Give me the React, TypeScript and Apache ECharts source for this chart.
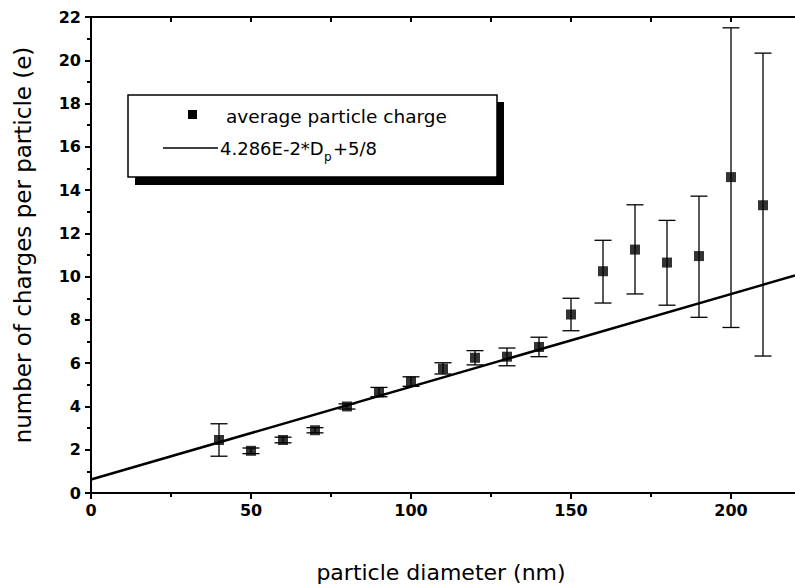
import React, { useEffect, useRef } from "react";
import * as echarts from "echarts";

const diameters = [40, 50, 60, 70, 80, 90, 100, 110, 120, 130, 140, 150, 160, 170, 180, 190, 200, 210];
const meanCharge = [2.45, 1.95, 2.45, 2.9, 4.0, 4.65, 5.15, 5.75, 6.25, 6.3, 6.75, 8.25, 10.25, 11.25, 10.65, 10.95, 14.6, 13.3];
const errLow = [1.7, 1.82, 2.32, 2.78, 3.88, 4.45, 4.93, 5.5, 5.92, 5.88, 6.3, 7.5, 8.78, 9.2, 8.68, 8.12, 7.65, 6.33];
const errHigh = [3.2, 2.08, 2.58, 3.02, 4.12, 4.88, 5.37, 6.02, 6.58, 6.7, 7.2, 9.0, 11.68, 13.32, 12.6, 13.72, 21.5, 20.33];
const fitX = [0, 220];
const fitY = [0.625, 10.054];
const xMajorTicks = [0, 50, 100, 150, 200];
const xMinorTicks = [25, 75, 125, 175];
const xTopTicks = [25, 50, 75, 100, 125, 150, 175, 200];

const legendName1 = "average particle charge";
const legendName2a = "4.286E-2*D";
const legendName2sub = "p";
const legendName2b = "+5/8";
const xTitle = "particle diameter (nm)";
const yTitle = "number of charges per particle (e)";

const TICK_FONT = "DejaVu Sans";
const TITLE_FONT = "DejaVu Sans";

export default function App() {
  const ref = useRef<HTMLDivElement>(null);
  useEffect(() => {
    const chart = echarts.init(ref.current!, null, { renderer: "svg" });
    const axisLine = { show: true, lineStyle: { color: "#000", width: 2 } };
    const hiddenLine = { show: false };
    const option: any = {
      animation: false,
      backgroundColor: "#fff",
      grid: { left: 91, top: 17, width: 707, height: 476, containLabel: false },
      xAxis: [
        {
          type: "value", min: 0, max: 220, position: "bottom",
          axisLine,
          axisTick: { show: true, inside: false, length: 6, lineStyle: { color: "#000", width: 2 }, customValues: xMajorTicks },
          axisLabel: { customValues: xMajorTicks, color: "#000", fontFamily: TICK_FONT, fontWeight: "bold", fontSize: 16, margin: 9 },
          splitLine: { show: false },
        },
        {
          type: "value", min: 0, max: 220, position: "bottom",
          axisLine: hiddenLine,
          axisTick: { show: true, inside: false, length: 4, lineStyle: { color: "#000", width: 2 }, customValues: xMinorTicks },
          axisLabel: { show: false },
          splitLine: { show: false },
        },
        {
          type: "value", min: 0, max: 220, position: "top",
          axisLine,
          axisTick: { show: true, inside: true, length: 5, lineStyle: { color: "#000", width: 2 }, customValues: xTopTicks },
          axisLabel: { show: false },
          splitLine: { show: false },
        },
      ],
      yAxis: [
        {
          type: "value", min: 0, max: 22, interval: 2, position: "left",
          axisLine,
          axisTick: { show: true, inside: false, length: 6, lineStyle: { color: "#000", width: 2 } },
          minorTick: { show: true, splitNumber: 2, length: 4, lineStyle: { color: "#000", width: 2 } },
          axisLabel: { color: "#000", fontFamily: TICK_FONT, fontWeight: "bold", fontSize: 16, margin: 10 },
          splitLine: { show: false },
          minorSplitLine: { show: false },
        },
        {
          type: "value", min: 0, max: 22, interval: 2, position: "right",
          axisLine,
          axisTick: { show: true, inside: true, length: 5, lineStyle: { color: "#000", width: 2 } },
          minorTick: { show: true, splitNumber: 2, length: 3, lineStyle: { color: "#000", width: 2 } },
          axisLabel: { show: false },
          splitLine: { show: false },
        },
      ],
      series: [
        {
          type: "line",
          name: "fit",
          xAxisIndex: 0, yAxisIndex: 0,
          data: fitX.map((x, i) => [x, fitY[i]]),
          showSymbol: false, symbol: "none",
          lineStyle: { color: "#000", width: 2.5 },
          z: 3,
        },
        {
          type: "custom",
          name: "errors",
          xAxisIndex: 0, yAxisIndex: 0,
          data: diameters.map((d, i) => [d, errLow[i], errHigh[i]]),
          encode: { x: 0, y: [1, 2] },
          renderItem: (params: any, api: any) => {
            const x = api.value(0);
            const lo = api.coord([x, api.value(1)]);
            const hi = api.coord([x, api.value(2)]);
            const hw = 8.5;
            const st = { stroke: "#000", lineWidth: 1.3 };
            return {
              type: "group",
              children: [
                { type: "line", shape: { x1: lo[0], y1: lo[1], x2: hi[0], y2: hi[1] }, style: st },
                { type: "line", shape: { x1: lo[0] - hw, y1: lo[1], x2: lo[0] + hw, y2: lo[1] }, style: st },
                { type: "line", shape: { x1: hi[0] - hw, y1: hi[1], x2: hi[0] + hw, y2: hi[1] }, style: st },
              ],
            };
          },
          z: 4,
        },
        {
          type: "scatter",
          name: legendName1,
          xAxisIndex: 0, yAxisIndex: 0,
          data: diameters.map((d, i) => [d, meanCharge[i]]),
          symbol: "rect", symbolSize: 10,
          itemStyle: { color: "#000" },
          z: 5,
        },
      ],
      graphic: [
        { type: "rect", shape: { x: 135, y: 102, width: 369, height: 83 }, style: { fill: "#000" }, z: 10 },
        { type: "rect", shape: { x: 128, y: 95, width: 369, height: 82 }, style: { fill: "#fff", stroke: "#000", lineWidth: 1.5 }, z: 11 },
        { type: "rect", shape: { x: 188, y: 110, width: 9, height: 9 }, style: { fill: "#000" }, z: 12 },
        { type: "text", x: 226, y: 116, style: { text: legendName1, fill: "#000", font: `18.5px "${TITLE_FONT}"`, verticalAlign: "middle" }, z: 12 },
        { type: "line", shape: { x1: 163, y1: 148, x2: 218, y2: 148 }, style: { stroke: "#000", lineWidth: 1.5 }, z: 12 },
        { type: "text", x: 220, y: 148, style: { text: legendName2a, fill: "#000", font: `18px "${TITLE_FONT}"`, verticalAlign: "middle" }, z: 12 },
        { type: "text", x: 324, y: 157, style: { text: legendName2sub, fill: "#000", font: `12px "${TITLE_FONT}"`, verticalAlign: "middle" }, z: 12 },
        { type: "text", x: 333, y: 148, style: { text: legendName2b, fill: "#000", font: `18px "${TITLE_FONT}"`, verticalAlign: "middle" }, z: 12 },
        { type: "text", x: 441, y: 572, style: { text: xTitle, fill: "#000", font: `22px "${TITLE_FONT}"`, align: "center", verticalAlign: "middle" } },
        { type: "text", x: 23, y: 245, rotation: Math.PI / 2, style: { text: yTitle, fill: "#000", font: `23px "${TITLE_FONT}"`, align: "center", verticalAlign: "middle" } },
      ],
    };
    chart.setOption(option);
    return () => chart.dispose();
  }, []);
  return <div ref={ref} style={{ position: "fixed", left: 0, top: 0, width: 795, height: 585 }} />;
}
